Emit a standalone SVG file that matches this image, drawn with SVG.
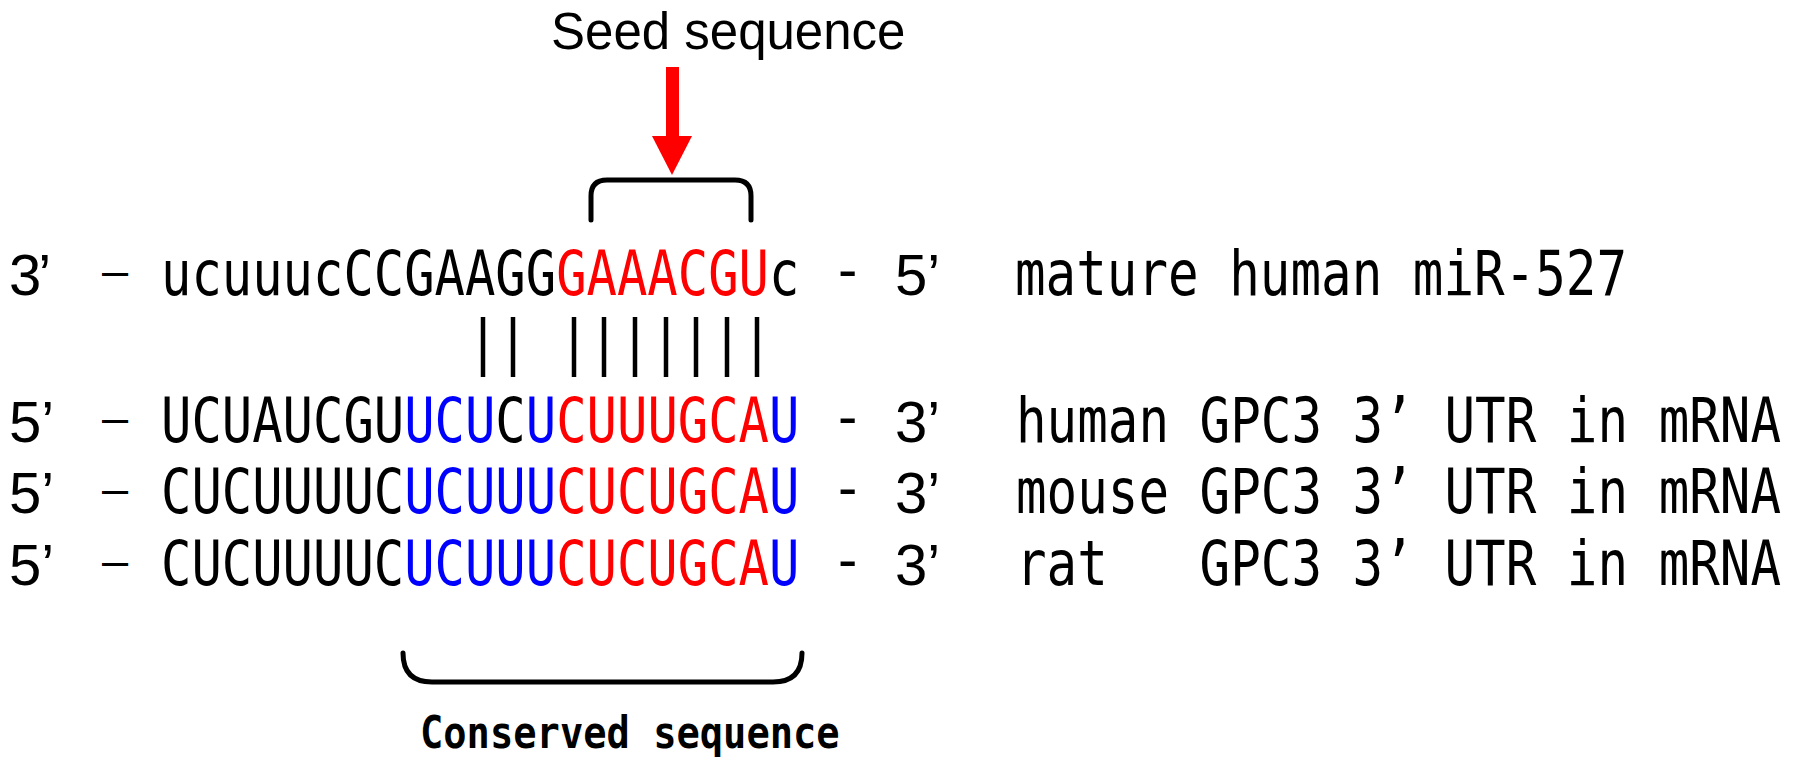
<svg xmlns="http://www.w3.org/2000/svg" width="1795" height="767" viewBox="0 0 1795 767">
<style>
.seq{font-family:"DejaVu Sans Mono","Liberation Mono",monospace;font-size:62px;}
.lab{font-family:"DejaVu Sans Mono","Liberation Mono",monospace;font-size:62px;fill:#000;}
.ar{font-family:"Liberation Sans",Arial,sans-serif;font-size:58px;fill:#000;}
.k{fill:#000;}
.r{fill:#FF0000;}
.b{fill:#0000FF;}
.bar{stroke:#000;stroke-width:4.5;}
.brk{fill:none;stroke:#000;stroke-width:5;stroke-linecap:round;stroke-linejoin:round;}
</style>
<rect width="1795" height="767" fill="#fff"/>

<g id="seed-label">
<text x="551" y="49" style="font-family:'Liberation Sans',Arial,sans-serif;font-size:51px;" fill="#000">Seed sequence</text>
</g>

<g id="seed-bracket">
<path class="brk" d="M591,220 L591,196 Q591,180 607,180 L735,180 Q751,180 751,196 L751,220"/>
</g>

<g id="mirna">
<text class="ar" x="9" y="295" letter-spacing="-3">3’</text>
<text class="ar" x="102" y="286" style="font-size:47px">–</text>
<text class="seq" transform="scale(0.8145,1)" x="197.67" y="295"><tspan class="k">ucuuucCCGAAGG</tspan><tspan class="r">GAAACGU</tspan><tspan class="k">c</tspan></text>
<text class="ar" x="838" y="289">-</text>
<text class="ar" x="895" y="295">5’</text>
<text class="lab" transform="scale(0.82,1)" x="1237.8" y="295">mature human miR-527</text>
</g>

<g id="pairing">
<line class="bar" x1="483" y1="317" x2="483" y2="377"/>
<line class="bar" x1="513" y1="317" x2="513" y2="377"/>
<line class="bar" x1="574" y1="317" x2="574" y2="377"/>
<line class="bar" x1="604" y1="317" x2="604" y2="377"/>
<line class="bar" x1="635" y1="317" x2="635" y2="377"/>
<line class="bar" x1="666" y1="317" x2="666" y2="377"/>
<line class="bar" x1="696" y1="317" x2="696" y2="377"/>
<line class="bar" x1="727" y1="317" x2="727" y2="377"/>
<line class="bar" x1="757" y1="317" x2="757" y2="377"/>
</g>

<g id="human-mrna">
<text class="ar" x="9" y="442">5’</text>
<text class="ar" x="102" y="433" style="font-size:47px">–</text>
<text class="seq" transform="scale(0.8145,1)" x="197.67" y="442"><tspan class="k">UCUAUCGU</tspan><tspan class="b">UCU</tspan><tspan class="k">C</tspan><tspan class="b">U</tspan><tspan class="r">CUUUGCA</tspan><tspan class="b">U</tspan></text>
<text class="ar" x="838" y="436">-</text>
<text class="ar" x="895" y="442">3’</text>
<text class="lab" transform="scale(0.82,1)" x="1239" y="442">human GPC3 3’ UTR in mRNA</text>
</g>

<g id="mouse-mrna">
<text class="ar" x="9" y="513">5’</text>
<text class="ar" x="102" y="504" style="font-size:47px">–</text>
<text class="seq" transform="scale(0.8145,1)" x="197.67" y="513"><tspan class="k">CUCUUUUC</tspan><tspan class="b">UCUUU</tspan><tspan class="r">CUCUGCA</tspan><tspan class="b">U</tspan></text>
<text class="ar" x="838" y="507">-</text>
<text class="ar" x="895" y="513">3’</text>
<text class="lab" transform="scale(0.82,1)" x="1239" y="513">mouse GPC3 3’ UTR in mRNA</text>
</g>

<g id="rat-mrna">
<text class="ar" x="9" y="585">5’</text>
<text class="ar" x="102" y="576" style="font-size:47px">–</text>
<text class="seq" transform="scale(0.8145,1)" x="197.67" y="585"><tspan class="k">CUCUUUUC</tspan><tspan class="b">UCUUU</tspan><tspan class="r">CUCUGCA</tspan><tspan class="b">U</tspan></text>
<text class="ar" x="838" y="579">-</text>
<text class="ar" x="895" y="585">3’</text>
<text class="lab" transform="scale(0.82,1)" x="1239" y="585" xml:space="preserve">rat   GPC3 3’ UTR in mRNA</text>
</g>

<g id="conserved-bracket">
<path class="brk" d="M403,653 Q403,682 432,682 L773,682 Q802,682 802,653"/>
</g>

<g id="conserved-label">
<text transform="scale(0.861,1)" x="487.8" y="748" style="font-family:'DejaVu Sans Mono','Liberation Mono',monospace;font-size:45px;font-weight:bold;" fill="#000">Conserved sequence</text>
</g>

<g id="connectors">
<rect x="666" y="67" width="13" height="70" fill="#FF0000"/>
<polygon points="652,136 692,136 672,175" fill="#FF0000"/>
</g>
</svg>
